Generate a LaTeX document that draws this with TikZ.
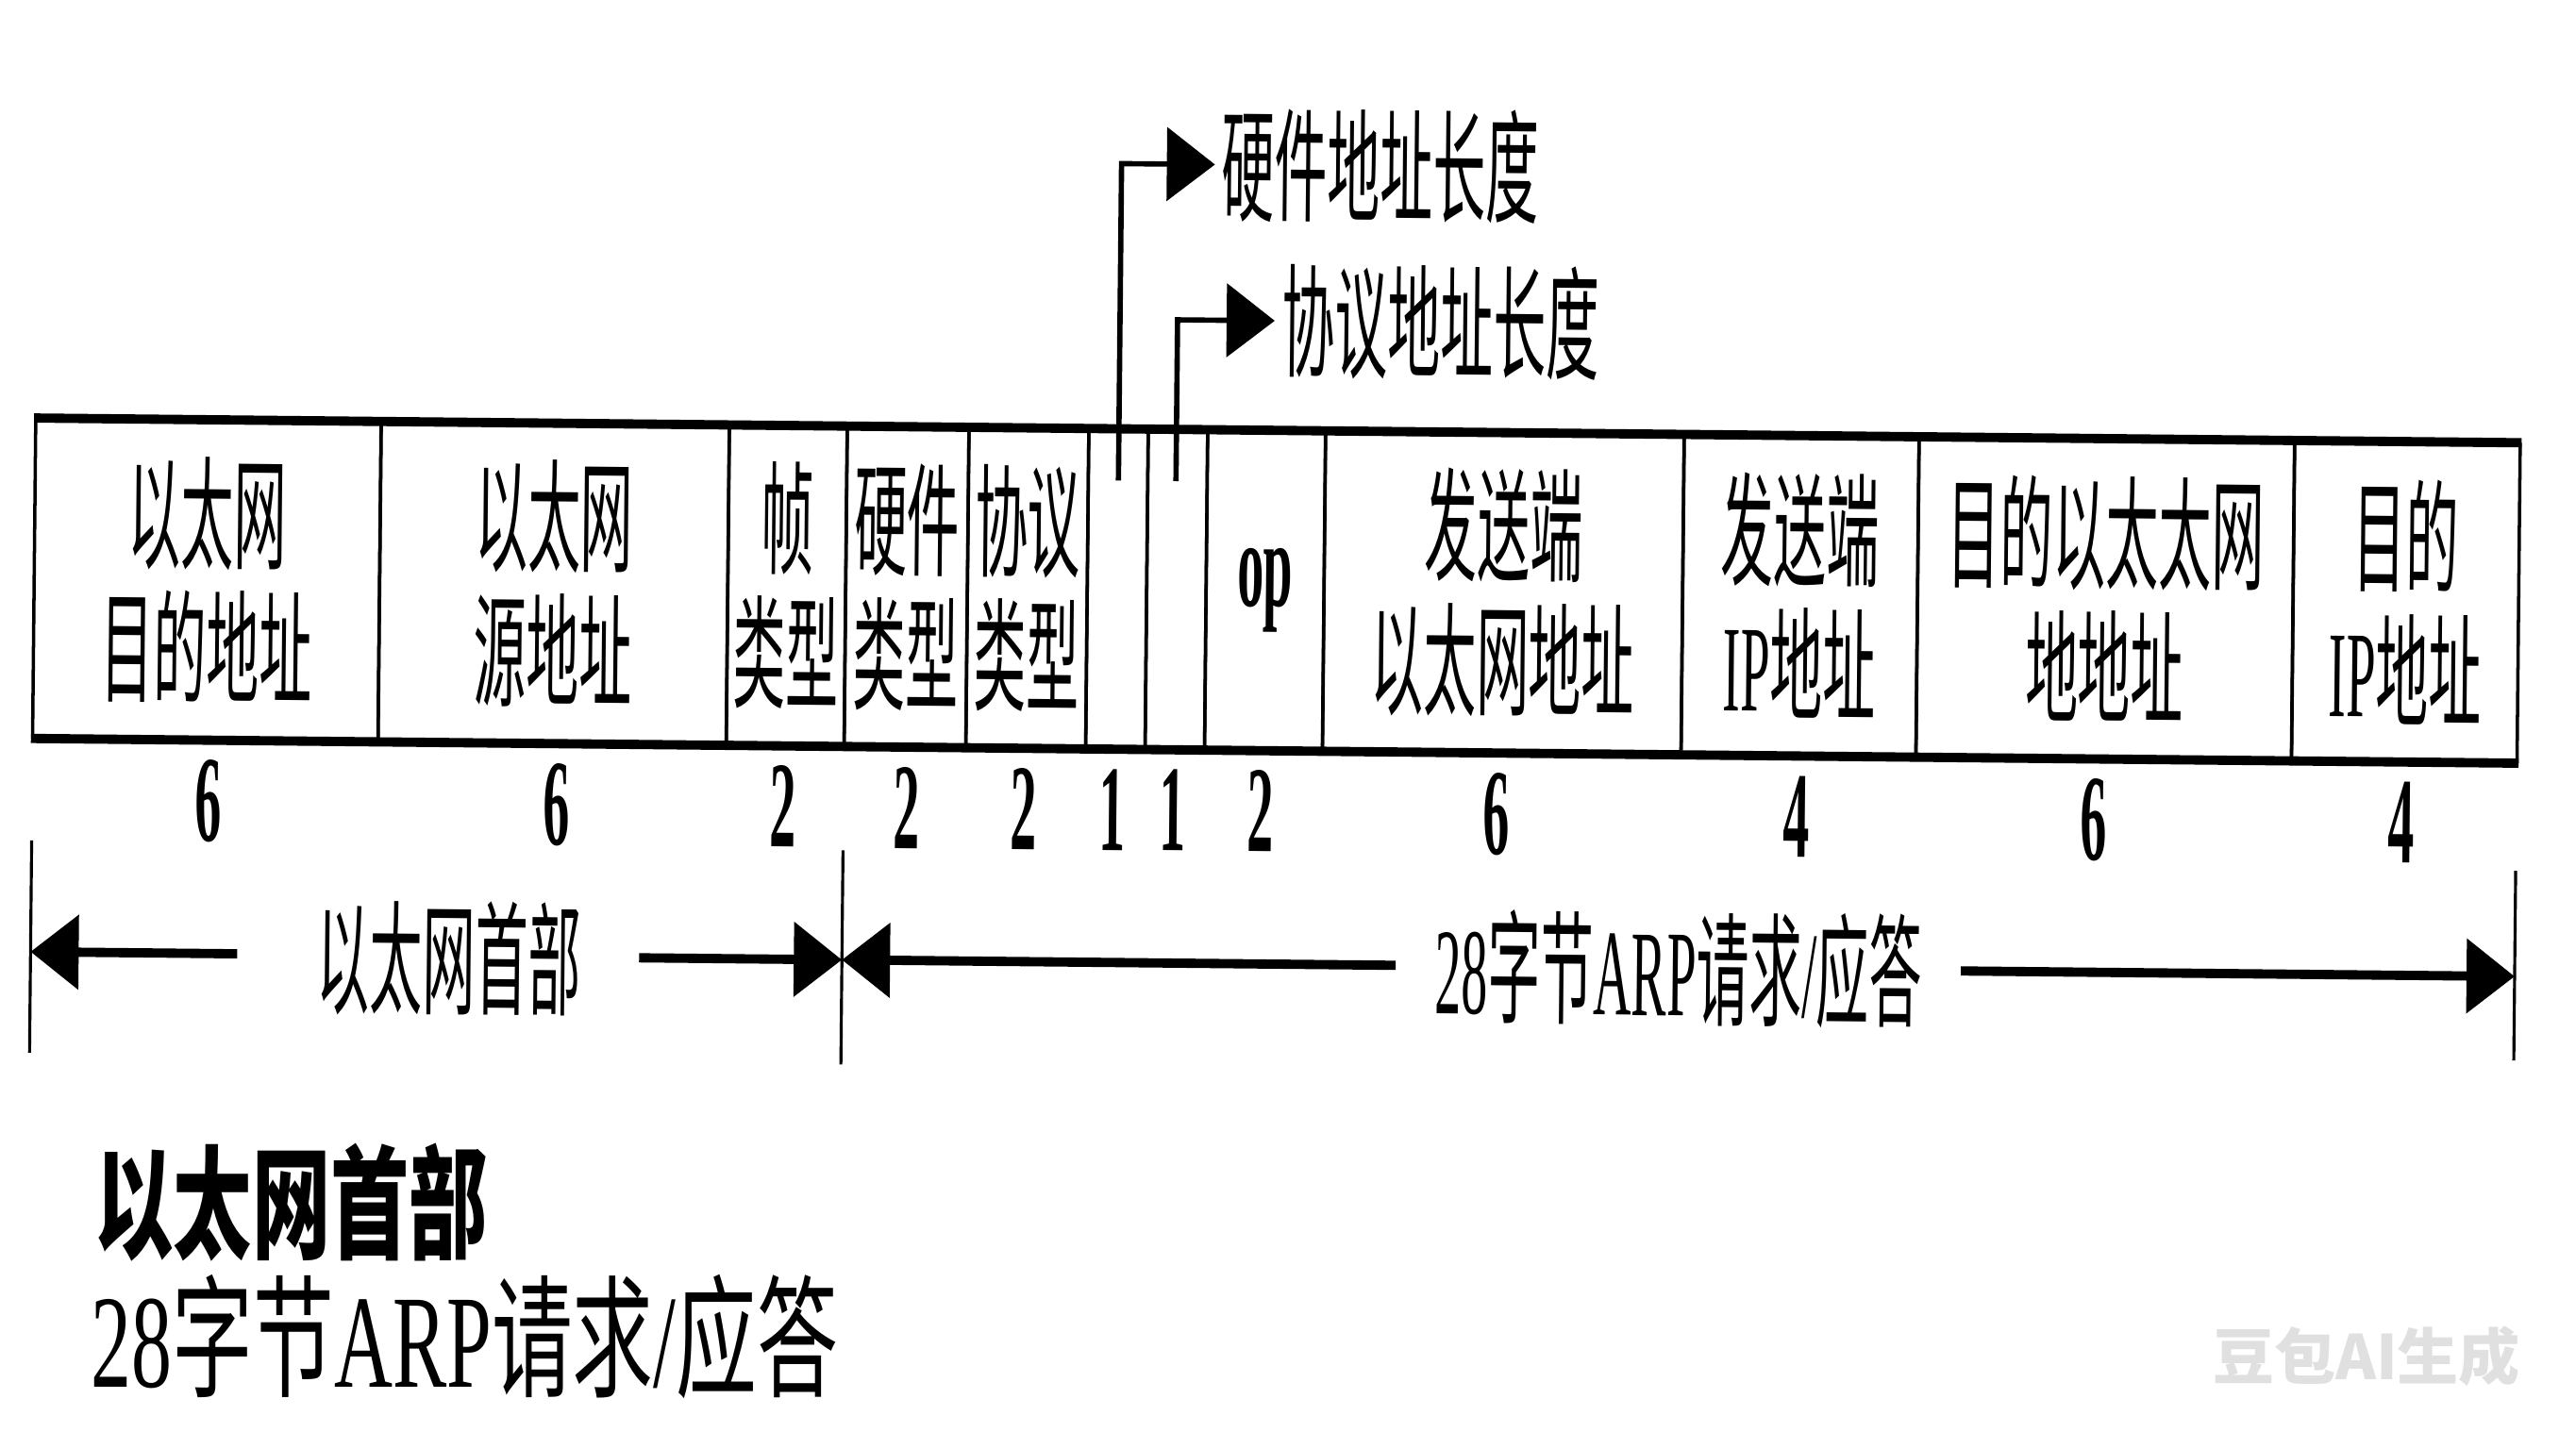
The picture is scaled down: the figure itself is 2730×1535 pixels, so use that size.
\documentclass[tikz,border=0pt]{standalone}
\usepackage{fontspec}
\usetikzlibrary{arrows.meta}
\newfontfamily\cjkn[FakeStretch=0.43]{Noto Sans CJK SC}
\newfontfamily\latn[FakeStretch=0.43]{Liberation Serif}
\newfontfamily\cjkw[FakeStretch=0.61]{Noto Sans CJK SC}
\newfontfamily\latw[FakeStretch=0.61]{Liberation Serif}
\newfontfamily\cjkh[FakeStretch=0.64]{Noto Sans CJK SC}
\newfontfamily\wmfont{Noto Sans CJK SC}

\tikzset{
 cellbox/.style={draw, line width=1pt, minimum height=3.36cm, inner sep=0pt, align=center,
   font=\fontsize{37}{40.5}\selectfont\cjkn},
 frameline/.style={line width=2.8pt},
 numlab/.style={anchor=base, inner sep=0pt, font=\fontsize{37}{40}\selectfont\latn\bfseries},
 leadarrow/.style={line width=1.6pt, -{Triangle[length=14.5pt,width=22pt]}},
 dimarrow/.style={line width=2.8pt, -{Triangle[length=14.5pt,width=22pt]}},
 extline/.style={line width=0.9pt},
 sidelabel/.style={anchor=west, inner xsep=2pt, inner ysep=0pt, font=\fontsize{37}{40}\selectfont\cjkn},
 dimlabel/.style={inner sep=0pt, font=\fontsize{37}{40}\selectfont\cjkn},
}

\begin{document}
\begin{tikzpicture}[x=0.01cm, y=-0.01cm]
\fill[white] (0,0) rectangle (2730,1535);
\useasboundingbox (0,0) rectangle (2730,1535);

\begin{scope}[rotate around={-0.57:(38,445)}, transform shape]
% cells
\node[cellbox, minimum width=3.66cm] (c1)  at (221,613)    {以太网\\目的地址};
\node[cellbox, minimum width=3.69cm] (c2)  at (588.5,613)  {以太网\\源地址};
\node[cellbox, minimum width=1.25cm] (c3)  at (835.5,613)  {帧\\类型};
\node[cellbox, minimum width=1.29cm] (c4)  at (962.5,613)  {硬件\\类型};
\node[cellbox, minimum width=1.27cm] (c5)  at (1090.5,613) {协议\\类型};
\node[cellbox, minimum width=0.63cm] (c6)  at (1185.5,613) {};
\node[cellbox, minimum width=0.63cm] (c7)  at (1248.5,613) {};
\node[cellbox, minimum width=1.25cm, font=\fontsize{37}{40}\selectfont\latn\bfseries] (c8) at (1342.5,613) {op};
\node[cellbox, minimum width=3.80cm] (c9)  at (1595,613)   {发送端\\以太网地址};
\node[cellbox, minimum width=2.49cm] (c10) at (1909.5,613) {发送端\\{\latn IP}地址};
\node[cellbox, minimum width=3.98cm] (c11) at (2233,613)   {目的以太太网\\地地址};
\node[cellbox, minimum width=2.39cm] (c12) at (2551.5,613) {目的\\{\latn IP}地址};
% thick top and bottom rules
\draw[frameline] (c1.north west) -- (c12.north east);
\draw[frameline] (c1.south west) -- (c12.south east);

% leaders to the length labels
\node[sidelabel] (h1) at (1285,162) {硬件地址长度};
\node[sidelabel] (h2) at (1350,327) {协议地址长度};
\coordinate (v1b) at (1186,498);
\coordinate (v1k) at (1186,162);
\coordinate (v2b) at (1247,498);
\coordinate (v2k) at (1247,327);
\draw[leadarrow] (v1b) -- (v1k) -- (h1.west);
\draw[leadarrow] (v2b) -- (v2k) -- (h2.west);

% byte counts
\node[numlab] (n1)  at (225,890)  {6};
\node[numlab] (n2)  at (594,890)  {6};
\node[numlab] (n3)  at (834,890)  {2};
\node[numlab] (n4)  at (965,890)  {2};
\node[numlab] (n5)  at (1089,890) {2};
\node[numlab] (n6)  at (1183,890) {1};
\node[numlab] (n7)  at (1247,890) {1};
\node[numlab] (n8)  at (1340,890) {2};
\node[numlab] (n9)  at (1590,890) {6};
\node[numlab] (n10) at (1908,890) {4};
\node[numlab] (n11) at (2223,890) {6};
\node[numlab] (n12) at (2549,890) {4};

% extension lines
\coordinate (e1t) at (38,891);   \coordinate (e1b) at (38,1116);
\coordinate (e2t) at (898,893);  \coordinate (e2b) at (898,1120);
\coordinate (e3t) at (2671,897); \coordinate (e3b) at (2671,1098);
\draw[extline] (e1t) -- (e1b);
\draw[extline] (e2t) -- (e2b);
\draw[extline] (e3t) -- (e3b);

% dimension arrows
\node[dimlabel] (dA) at (482,1012)  {以太网首部};
\node[dimlabel] (dB) at (1785,1010) {{\latn 28}字节{\latn ARP}请求{\latn /}应答};
\coordinate (aL)  at (38,1009);
\coordinate (sA1) at (257,1009);
\coordinate (sA2) at (683,1009);
\coordinate (aM)  at (898,1009);
\coordinate (sB1) at (1485,1009);
\coordinate (sB2) at (2084,1009);
\coordinate (aR)  at (2671,1009);
\draw[dimarrow] (sA1) -- (aL);
\draw[dimarrow] (sA2) -- (aM);
\draw[dimarrow] (sB1) -- (aM);
\draw[dimarrow] (sB2) -- (aR);
\end{scope}

% titles below
\node[anchor=base west, inner sep=0pt, font=\fontsize{37}{40}\selectfont\cjkh\bfseries] (t1) at (100,1324) {以太网首部};
\node[anchor=base west, inner sep=0pt, font=\fontsize{40}{44}\selectfont\cjkw] (t2) at (96,1470) {{\latw 28}字节{\latw ARP}请求{\latw /}应答};
% watermark
\node[font=\fontsize{18.5}{20}\selectfont\wmfont\bfseries, text=black!12] (wm) at (2508,1438) {豆包AI生成};
\end{tikzpicture}
\end{document}
